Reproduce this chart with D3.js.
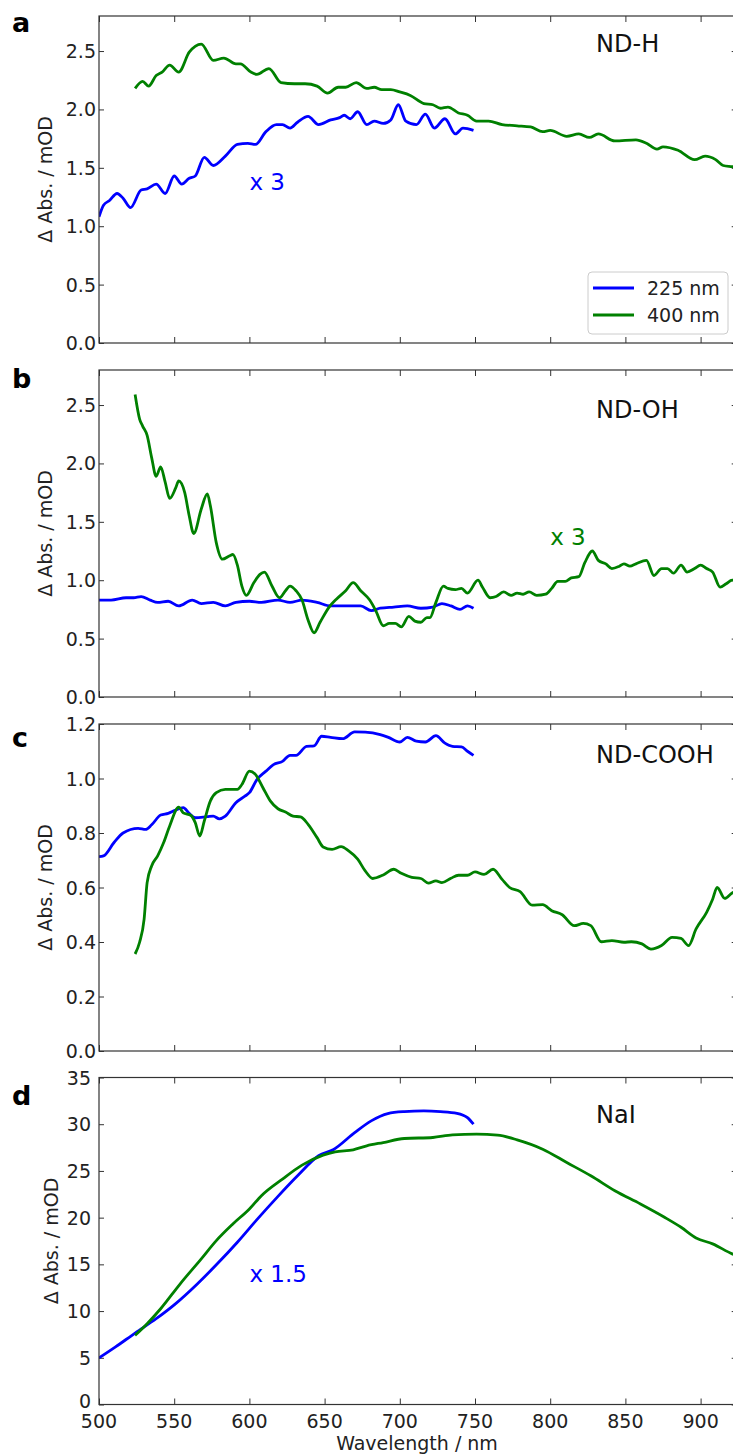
<!DOCTYPE html>
<html>
<head>
  <meta charset="utf-8">
  <title>Transient absorption spectra</title>
  <style>
    body { margin: 0; background: #fff; }
    svg text { font-family: "DejaVu Sans", sans-serif; }
  </style>
</head>
<body>
  <svg id="chart"></svg>

  <script src="https://d3js.org/d3.v7.min.js"></script>
  <script>
    // ---- data (wavelength nm, delta abs mOD) ----
    const panelNames = ["ND-H", "ND-OH", "ND-COOH", "NaI"];
    const panelLetters = ["a", "b", "c", "d"];
    const seriesNames = ["225 nm", "400 nm"];
    const xTicks = [500, 550, 600, 650, 700, 750, 800, 850, 900];
    const yTicksA = [0, 0.5, 1.0, 1.5, 2.0, 2.5];
    const yTicksB = [0, 0.5, 1.0, 1.5, 2.0, 2.5];
    const yTicksC = [0, 0.2, 0.4, 0.6, 0.8, 1.0, 1.2];
    const yTicksD = [0, 5, 10, 15, 20, 25, 30, 35];
    const yMax = [2.8, 2.8, 1.2, 35];
    const scaleNotes = ["x 3", "x 3", null, "x 1.5"];

    const ndH225 = [[500,1.08],[503,1.18],[507,1.22],[512,1.28],[516,1.24],[521,1.16],[528,1.31],[532,1.32],[538,1.36],[544,1.28],
      [550,1.43],[555,1.36],[560,1.41],[564,1.43],[570,1.59],[576,1.52],[584,1.60],[592,1.70],[599,1.71],[604,1.70],
      [611,1.81],[618,1.87],[622,1.87],[627,1.84],[632,1.89],[639,1.94],[646,1.87],[654,1.91],[660,1.93],[663,1.95],
      [667,1.92],[672,1.98],[678,1.87],[683,1.90],[689,1.88],[694,1.91],[699,2.04],[704,1.90],[711,1.87],[717,1.96],
      [723,1.84],[730,1.92],[737,1.79],[742,1.84],[749,1.82]];
    const ndH400 = [[524,2.18],[529,2.24],[533,2.20],[538,2.29],[542,2.32],[547,2.38],[553,2.32],[560,2.49],[568,2.56],[576,2.42],
      [583,2.44],[591,2.39],[594,2.39],[601,2.32],[605,2.30],[613,2.35],[621,2.23],[630,2.22],[637,2.22],[645,2.20],
      [652,2.14],[659,2.19],[664,2.19],[671,2.23],[678,2.18],[683,2.19],[688,2.17],[694,2.17],[700,2.15],[707,2.12],
      [716,2.05],[722,2.04],[727,2.01],[732,2.02],[739,1.97],[745,1.95],[751,1.90],[759,1.90],[768,1.87],[778,1.86],
      [787,1.85],[795,1.81],[800,1.82],[811,1.77],[819,1.79],[826,1.76],[832,1.79],[843,1.73],[857,1.74],[864,1.71],
      [871,1.66],[875,1.68],[885,1.65],[896,1.57],[903,1.60],[910,1.57],[915,1.52],[921,1.51],[926,1.50]];

    const ndOH225 = [[500,0.83],[508,0.83],[518,0.85],[523,0.85],[528,0.86],[534,0.83],[539,0.81],[546,0.82],[553,0.78],[562,0.83],
      [568,0.80],[576,0.81],[584,0.78],[591,0.81],[600,0.82],[608,0.81],[619,0.83],[627,0.81],[635,0.83],[645,0.81],
      [654,0.78],[665,0.78],[674,0.78],[681,0.74],[687,0.76],[696,0.77],[705,0.78],[714,0.76],[722,0.77],[728,0.80],
      [734,0.78],[740,0.75],[745,0.78],[749,0.76]];
    const ndOH400 = [[524,2.59],[527,2.38],[529,2.32],[532,2.24],[535,2.05],[538,1.89],[541,1.97],[544,1.84],[547,1.70],[551,1.79],
      [553,1.85],[557,1.75],[560,1.55],[563,1.40],[568,1.61],[572,1.74],[574,1.64],[578,1.32],[582,1.18],[587,1.21],
      [589,1.22],[592,1.13],[595,0.95],[598,0.87],[603,0.98],[607,1.05],[610,1.07],[615,0.95],[620,0.85],[624,0.91],
      [627,0.95],[631,0.91],[635,0.83],[639,0.66],[643,0.55],[647,0.64],[653,0.77],[658,0.84],[664,0.91],[669,0.98],
      [674,0.91],[680,0.83],[684,0.74],[689,0.61],[693,0.63],[697,0.63],[701,0.60],[706,0.69],[710,0.65],[714,0.64],
      [718,0.68],[720,0.68],[724,0.81],[729,0.95],[732,0.93],[737,0.92],[741,0.93],[745,0.89],[752,1.00],[755,0.94],
      [760,0.85],[764,0.86],[769,0.90],[774,0.87],[778,0.89],[782,0.88],[786,0.90],[791,0.87],[797,0.88],[801,0.93],
      [805,0.99],[810,0.99],[814,1.02],[819,1.03],[823,1.15],[828,1.25],[832,1.17],[837,1.14],[841,1.10],[846,1.12],
      [849,1.14],[853,1.12],[857,1.14],[864,1.17],[869,1.04],[874,1.10],[878,1.10],[882,1.06],[887,1.13],[891,1.07],
      [896,1.10],[900,1.13],[904,1.10],[908,1.07],[913,0.94],[917,0.97],[921,1.00],[926,1.00]];

    const ndCOOH225 = [[500,0.713],[503,0.716],[510,0.765],[516,0.800],[526,0.817],[531,0.813],[535,0.830],[541,0.866],[546,0.872],[551,0.884],
      [556,0.893],[560,0.872],[564,0.856],[572,0.860],[576,0.862],[580,0.852],[584,0.862],[591,0.911],[597,0.935],[600,0.948],
      [605,0.996],[611,1.027],[616,1.051],[622,1.063],[627,1.085],[631,1.085],[638,1.118],[643,1.120],[648,1.155],[654,1.151],
      [662,1.146],[670,1.171],[677,1.170],[687,1.161],[692,1.152],[700,1.134],[705,1.151],[711,1.137],[717,1.134],[724,1.157],
      [730,1.130],[735,1.118],[741,1.116],[745,1.100],[749,1.085]];
    const ndCOOH400 = [[524,0.356],[527,0.399],[530,0.484],[532,0.618],[535,0.679],[539,0.716],[543,0.765],[547,0.826],[553,0.895],[556,0.874],
      [561,0.865],[564,0.838],[567,0.789],[570,0.844],[574,0.917],[578,0.948],[584,0.960],[592,0.960],[595,0.978],[600,1.027],
      [604,1.015],[609,0.966],[614,0.917],[619,0.889],[624,0.877],[629,0.862],[634,0.859],[639,0.832],[645,0.783],[649,0.749],
      [655,0.740],[661,0.750],[666,0.734],[672,0.704],[677,0.661],[682,0.633],[689,0.646],[696,0.667],[701,0.652],[708,0.637],
      [714,0.633],[719,0.616],[724,0.624],[728,0.618],[734,0.634],[739,0.645],[745,0.645],[750,0.657],[756,0.648],[762,0.667],
      [768,0.630],[773,0.600],[780,0.585],[788,0.535],[795,0.537],[801,0.515],[808,0.500],[816,0.460],[822,0.468],[827,0.460],
      [834,0.401],[841,0.405],[849,0.399],[854,0.401],[861,0.393],[867,0.374],[874,0.387],[881,0.417],[887,0.413],[892,0.387],
      [897,0.448],[904,0.509],[908,0.557],[911,0.600],[916,0.560],[921,0.580],[926,0.590]];

    const naI225 = [[500,4.98],[511,6.16],[524,7.65],[538,9.18],[551,10.8],[565,12.85],[578,14.95],[592,17.37],[605,19.79],[619,22.28],
      [632,24.48],[646,26.62],[656,27.3],[670,29.1],[681,30.36],[692,31.14],[703,31.35],[716,31.42],[727,31.35],[738,31.17],
      [745,30.71],[749,30.0]];
    const naI400 = [[524,7.40],[532,8.65],[541,10.25],[554,12.92],[568,15.59],[578,17.54],[589,19.32],[600,20.93],[608,22.35],[622,24.13],
      [635,25.62],[649,26.69],[657,27.05],[669,27.26],[678,27.69],[689,28.04],[703,28.47],[722,28.58],[735,28.86],[751,28.93],
      [765,28.83],[778,28.33],[795,27.33],[811,25.90],[827,24.48],[843,22.88],[860,21.46],[876,20.04],[887,18.97],[897,17.83],
      [908,17.19],[921,16.12],[926,15.8]];

    const panelSeries = [[ndH225, ndH400], [ndOH225, ndOH400], [ndCOOH225, ndCOOH400], [naI225, naI400]];
    const panelYTicks = [yTicksA, yTicksB, yTicksC, yTicksD];

    // ---- layout ----
    const width = 733, height = 1455;
    const left = 99, plotW = 637.7;
    const panelTop = [16, 370, 724, 1077.5];
    const panelH = 327;
    const colors = ["#0000ff", "#008000"];
    const noteColor = ["#0000ff", "#008000", null, "#0000ff"];
    const notePos = [[600, 1.31], [800, 1.30], null, [600, 13.1]];
    const titleY = [2.49, 2.39, 1.057, 30.1];
    const letterY = [32, 388, 747, 1105];
    const labelFont = 19;

    const svg = d3.select("#chart")
      .attr("width", width)
      .attr("height", height);

    svg.append("rect").attr("width", width).attr("height", height).attr("fill", "#fff");

    const x = d3.scaleLinear().domain([500, 924]).range([left, left + plotW]);

    panelNames.forEach((name, i) => {
      const top = panelTop[i];
      const y = d3.scaleLinear().domain([0, yMax[i]]).range([top + panelH, top]);
      const g = svg.append("g");

      const clipId = "clip" + i;
      svg.append("clipPath").attr("id", clipId)
        .append("rect")
        .attr("x", left).attr("y", top)
        .attr("width", plotW).attr("height", panelH);

      // ticks inward on all four sides
      const fmt = i === 3 ? d3.format("d") : d3.format(".1f");
      const axL = g.append("g").attr("transform", `translate(${left},0)`)
        .call(d3.axisRight(y).tickValues(panelYTicks[i]).tickSize(5).tickFormat(""));
      const axR = g.append("g").attr("transform", `translate(${left + plotW},0)`)
        .call(d3.axisLeft(y).tickValues(panelYTicks[i]).tickSize(5).tickFormat(""));
      const axB = g.append("g").attr("transform", `translate(0,${top + panelH})`)
        .call(d3.axisTop(x).tickValues(xTicks).tickSize(6).tickFormat(""));
      const axT = g.append("g").attr("transform", `translate(0,${top})`)
        .call(d3.axisBottom(x).tickValues(xTicks).tickSize(6).tickFormat(""));
      [axL, axR, axB, axT].forEach(a => {
        a.select(".domain").remove();
        a.selectAll("line").attr("stroke", "#333").attr("stroke-width", 1);
      });

      // y tick labels (the "0" of panel d sits just above the x labels, as in the original)
      const labelEnd = i === 3 ? 91 : 96;
      g.selectAll(".ylab")
        .data(panelYTicks[i])
        .enter().append("text")
        .attr("x", labelEnd)
        .attr("y", d => y(d) + (i === 3 && d === 0 ? 3.5 : 7))
        .attr("text-anchor", "end")
        .attr("font-size", labelFont)
        .attr("fill", "#222")
        .text(d => fmt(d));

      // y axis title
      g.append("text")
        .attr("transform", `translate(${i === 3 ? 58 : 52},${top + panelH / 2}) rotate(-90)`)
        .attr("text-anchor", "middle")
        .attr("font-size", labelFont)
        .attr("fill", "#222")
        .text("\u0394 Abs. / mOD");

      // curves
      const line = d3.line()
        .x(d => x(d[0]))
        .y(d => y(d[1]))
        .curve(d3.curveMonotoneX);

      panelSeries[i].forEach((s, k) => {
        g.append("path")
          .attr("clip-path", `url(#${clipId})`)
          .attr("d", line(s))
          .attr("fill", "none")
          .attr("stroke", colors[k])
          .attr("stroke-width", 2.8)
          .attr("stroke-linejoin", "round");
      });

      // frame
      g.append("rect")
        .attr("x", left).attr("y", top)
        .attr("width", plotW).attr("height", panelH)
        .attr("fill", "none")
        .attr("stroke", "#333")
        .attr("stroke-width", 1.2);

      // panel name
      g.append("text")
        .attr("x", x(830.5))
        .attr("y", y(titleY[i]))
        .attr("font-size", 24)
        .attr("fill", "#111")
        .text(name);

      // panel letter
      svg.append("text")
        .attr("x", 12)
        .attr("y", letterY[i])
        .attr("font-size", 27)
        .attr("font-weight", "bold")
        .attr("fill", "#000")
        .text(panelLetters[i]);

      // scaling note
      if (scaleNotes[i]) {
        g.append("text")
          .attr("x", x(notePos[i][0]))
          .attr("y", y(notePos[i][1]))
          .attr("font-size", 23)
          .attr("fill", noteColor[i])
          .text(scaleNotes[i]);
      }

      // legend in first panel
      if (i === 0) {
        const lg = g.append("g");
        lg.append("rect")
          .attr("x", 588).attr("y", 272)
          .attr("width", 140).attr("height", 62)
          .attr("rx", 4)
          .attr("fill", "#fff").attr("fill-opacity", 0.8)
          .attr("stroke", "#ccc");
        seriesNames.forEach((s, k) => {
          lg.append("line")
            .attr("x1", 593).attr("x2", 634)
            .attr("y1", 288 + k * 27).attr("y2", 288 + k * 27)
            .attr("stroke", colors[k]).attr("stroke-width", 2.8);
          lg.append("text")
            .attr("x", 647).attr("y", 295 + k * 27)
            .attr("font-size", labelFont)
            .attr("fill", "#222")
            .text(s);
        });
      }

      // x tick labels + title on bottom panel
      if (i === 3) {
        g.selectAll(".xlab")
          .data(xTicks)
          .enter().append("text")
          .attr("x", d => x(d))
          .attr("y", top + panelH + 23.5)
          .attr("text-anchor", "middle")
          .attr("font-size", labelFont)
          .attr("fill", "#222")
          .text(d => d);
        g.append("text")
          .attr("x", 417)
          .attr("y", 1450)
          .attr("text-anchor", "middle")
          .attr("font-size", labelFont)
          .attr("fill", "#222")
          .text("Wavelength / nm");
      }
    });
  </script>
</body>
</html>
